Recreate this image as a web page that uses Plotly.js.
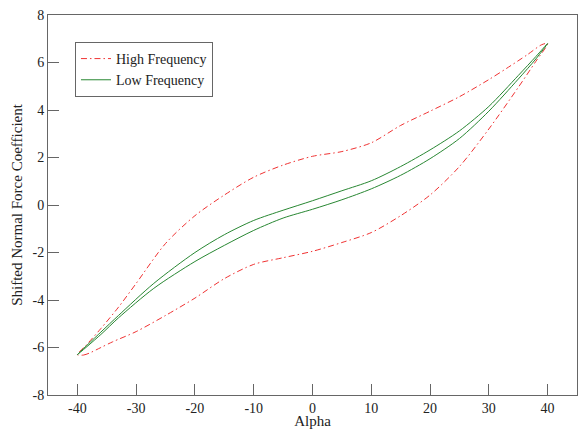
<!DOCTYPE html>
<html>
<head>
<meta charset="utf-8">
<script src="https://cdn.plot.ly/plotly-3.0.1.min.js"></script>
<style>html,body{margin:0;padding:0;background:#fff;}#chart{width:581px;height:429px;}</style>
</head>
<body>
<div id="chart"></div>
<script>
// High frequency loop: lower branch (increasing alpha), upper branch (decreasing alpha)
const hfLowerAlpha = [-40, -39, -38, -36, -34, -30, -25, -20, -15, -10, -5, 0, 5, 10, 15, 20, 25, 30, 35, 38, 40];
const hfLowerCoef  = [-6.3, -6.32, -6.24, -6.0, -5.76, -5.33, -4.65, -3.92, -3.1, -2.5, -2.22, -1.95, -1.58, -1.16, -0.45, 0.42, 1.62, 3.2, 4.95, 6.05, 6.8];
const hfUpperAlpha = [40, 39, 36.5, 33, 30, 25, 20, 15, 10, 5, 0, -5, -10, -15, -20, -25, -30, -33, -36, -38.5, -40];
const hfUpperCoef  = [6.8, 6.75, 6.32, 5.75, 5.28, 4.56, 3.95, 3.35, 2.62, 2.25, 2.05, 1.68, 1.17, 0.42, -0.45, -1.62, -3.3, -4.3, -5.2, -5.9, -6.3];
// Low frequency loop
const lfLowerAlpha = [-40, -36, -33, -27, -20, -15, -10, -5, 0, 5, 10, 15, 20, 25, 30, 35, 38, 40];
const lfLowerCoef  = [-6.3, -5.45, -4.75, -3.51, -2.38, -1.7, -1.07, -0.55, -0.18, 0.22, 0.68, 1.25, 1.95, 2.8, 3.95, 5.3, 6.15, 6.8];
const lfUpperAlpha = [40, 38, 35, 30, 25, 20, 15, 10, 5, 0, -5, -10, -15, -20, -27, -33, -36, -40];
const lfUpperCoef  = [6.8, 6.25, 5.45, 4.15, 3.12, 2.32, 1.62, 1.02, 0.6, 0.18, -0.22, -0.65, -1.25, -2.0, -3.3, -4.65, -5.35, -6.3];

const seriesNames = ["High Frequency", "Low Frequency"];
const xTickVals = [-40, -30, -20, -10, 0, 10, 20, 30, 40];
const yTickVals = [-8, -6, -4, -2, 0, 2, 4, 6, 8];

const serif = "Liberation Serif, Times New Roman, serif";

const traces = [
  {
    x: hfLowerAlpha.concat(hfUpperAlpha.slice(1)),
    y: hfLowerCoef.concat(hfUpperCoef.slice(1)),
    mode: "lines", name: seriesNames[0],
    line: {color: "rgb(240,50,50)", width: 1, dash: "6px,3px,1.5px,3px", shape: "spline", smoothing: 0.8}
  },
  {
    x: lfLowerAlpha.concat(lfUpperAlpha.slice(1)),
    y: lfLowerCoef.concat(lfUpperCoef.slice(1)),
    mode: "lines", name: seriesNames[1],
    line: {color: "rgb(40,135,50)", width: 1, shape: "spline", smoothing: 0.8}
  }
];

const layout = {
  width: 581, height: 429,
  margin: {l: 48, r: 4, t: 15, b: 34},
  paper_bgcolor: "#fff", plot_bgcolor: "#fff",
  font: {family: serif, size: 14, color: "#222"},
  showlegend: true,
  legend: {
    x: 0.051, y: 0.929, xanchor: "left", yanchor: "top",
    bordercolor: "#666", borderwidth: 1, bgcolor: "#fff",
    font: {family: serif, size: 14, color: "#222"},
    itemwidth: 30, tracegroupgap: 0
  },
  xaxis: {
    range: [-45, 45], tickvals: xTickVals, ticktext: xTickVals.map(String),
    ticks: "inside", ticklen: 11, tickcolor: "#666", tickwidth: 1,
    showline: true, linecolor: "#666", linewidth: 1, mirror: true,
    showgrid: false, zeroline: false,
    tickfont: {family: serif, size: 14, color: "#222"},
    title: {text: "Alpha", font: {family: serif, size: 15, color: "#222"}, standoff: 9}
  },
  yaxis: {
    range: [-8, 8], tickvals: yTickVals, ticktext: yTickVals.map(String),
    ticks: "inside", ticklen: 11, tickcolor: "#666", tickwidth: 1,
    showline: true, linecolor: "#666", linewidth: 1, mirror: true,
    showgrid: false, zeroline: false,
    tickfont: {family: serif, size: 14, color: "#222"},
    title: {text: "Shifted Normal Force Coefficient", font: {family: serif, size: 15, color: "#222"}, standoff: 6}
  }
};

Plotly.newPlot("chart", traces, layout, {displayModeBar: false, staticPlot: true});
</script>
</body>
</html>
